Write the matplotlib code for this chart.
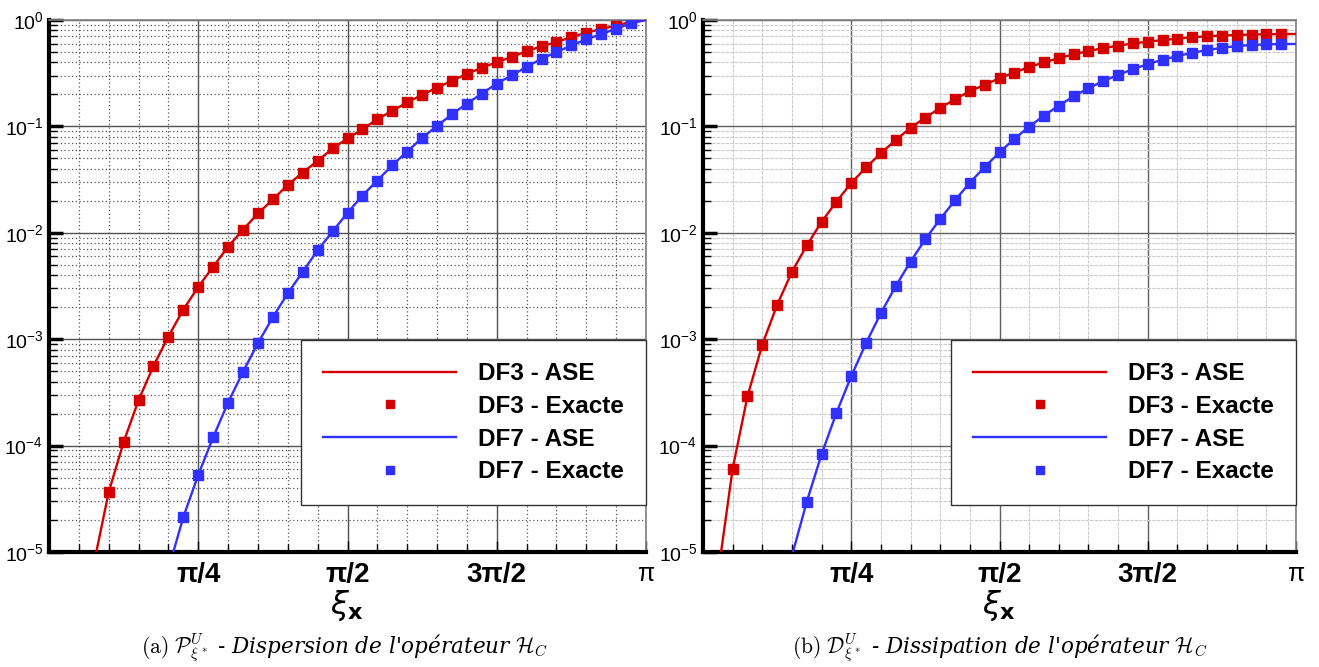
import numpy as np
import matplotlib.pyplot as plt
from matplotlib.ticker import FixedLocator, NullFormatter

# sample index k -> xi = k*pi/40
# (a) dispersion
k_a_red = list(range(4, 40))
a_red = [3.65e-5, 1.08e-4, 2.67e-4, 5.6e-4, 1.06e-3, 1.9e-3, 3.1e-3, 4.8e-3,
         7.4e-3, 1.07e-2, 1.52e-2, 2.06e-2, 2.82e-2, 3.68e-2, 4.74e-2, 6.2e-2,
         7.7e-2, 9.4e-2, 0.117, 0.140, 0.168, 0.198, 0.232, 0.268, 0.312,
         0.355, 0.402, 0.448, 0.510, 0.565, 0.620, 0.691, 0.760, 0.823, 0.885,
         0.964]
k_a_blue = list(range(9, 40))
a_blue = [2.13e-5, 5.3e-5, 1.2e-4, 2.54e-4, 4.94e-4, 9.2e-4, 1.61e-3, 2.7e-3,
          4.3e-3, 6.86e-3, 1.03e-2, 1.54e-2, 2.24e-2, 3.1e-2, 4.32e-2, 5.8e-2,
          7.8e-2, 0.101, 0.130, 0.164, 0.203, 0.253, 0.301, 0.363, 0.432,
          0.499, 0.577, 0.657, 0.738, 0.828, 0.93]
# ASE curve end points (where it leaves the frame)
a_red_ends = [(3.17, 1e-5), (40, 1.0)]
a_blue_ends = [(8.33, 1e-5), (40, 1.0)]

# (b) dissipation
k_b_red = list(range(2, 40))
b_red = [6.08e-5, 2.9e-4, 8.9e-4, 2.1e-3, 4.3e-3, 7.6e-3, 1.27e-2, 1.96e-2,
         2.94e-2, 4.12e-2, 5.6e-2, 7.46e-2, 9.7e-2, 0.121, 0.149, 0.180,
         0.214, 0.246, 0.284, 0.321, 0.361, 0.399, 0.438, 0.475, 0.511, 0.545,
         0.573, 0.603, 0.625, 0.648, 0.667, 0.687, 0.704, 0.714, 0.723, 0.730,
         0.735, 0.738]
k_b_blue = list(range(7, 40))
b_blue = [2.97e-5, 8.3e-5, 2.03e-4, 4.49e-4, 9.2e-4, 1.76e-3, 3.15e-3, 5.37e-3,
          8.7e-3, 1.35e-2, 2.02e-2, 2.96e-2, 4.15e-2, 5.71e-2, 7.62e-2,
          9.96e-2, 0.126, 0.157, 0.191, 0.229, 0.266, 0.305, 0.345, 0.385,
          0.423, 0.458, 0.492, 0.521, 0.548, 0.569, 0.582, 0.590, 0.594]
b_red_ends = [(1.22, 1e-5), (40, 0.739)]
b_blue_ends = [(6.07, 1e-5), (40, 0.595)]

xticks = [np.pi / 4, np.pi / 2, 3 * np.pi / 4, np.pi]
xticklabels = ['π/4', 'π/2', '3π/2', 'π']
yticks = [1e-5, 1e-4, 1e-3, 1e-2, 1e-1, 1e0]
yticklabels = [r'$\mathregular{10^{-5}}$', r'$\mathregular{10^{-4}}$',
               r'$\mathregular{10^{-3}}$', r'$\mathregular{10^{-2}}$',
               r'$\mathregular{10^{-1}}$', r'$\mathregular{10^{0}}$']

RED = '#d40000'
BLUE = '#3030ff'

fig = plt.figure(figsize=(13.19, 6.67), dpi=100)
ax_a = fig.add_axes([49 / 1319, 1 - 552 / 667, 597 / 1319, 532 / 667])
ax_b = fig.add_axes([703 / 1319, 1 - 552 / 667, 593 / 1319, 532 / 667])


def with_ends(k, v, ends):
    kk = [ends[0][0]] + list(k) + [ends[1][0]]
    vv = [ends[0][1]] + list(v) + [ends[1][1]]
    return np.array(kk) * np.pi / 40, vv


def draw(ax, kr, vr, er, kb, vb, eb, light_grid):
    x, y = with_ends(kr, vr, er)
    ax.plot(x, y, color=RED, lw=1.7, label='DF3 - ASE', zorder=3)
    ax.plot(np.array(kr) * np.pi / 40, vr, 's', color=RED, ms=7.2,
            ls='none', label='DF3 - Exacte', zorder=4)
    x, y = with_ends(kb, vb, eb)
    ax.plot(x, y, color=BLUE, lw=1.7, label='DF7 - ASE', zorder=3)
    ax.plot(np.array(kb) * np.pi / 40, vb, 's', color=BLUE, ms=7.2,
            ls='none', label='DF7 - Exacte', zorder=4)

    ax.set_yscale('log')
    ax.set_xlim(0, np.pi)
    ax.set_ylim(1e-5, 1)

    ax.xaxis.set_major_locator(FixedLocator(xticks))
    ax.xaxis.set_minor_locator(FixedLocator([i * np.pi / 20 for i in range(1, 20)]))
    ax.set_xticklabels(xticklabels)
    ax.yaxis.set_major_locator(FixedLocator(yticks))
    minors = [m * 10.0 ** e for e in range(-5, 0) for m in range(2, 10)]
    ax.yaxis.set_minor_locator(FixedLocator(minors))
    ax.yaxis.set_minor_formatter(NullFormatter())
    ax.set_yticklabels(yticklabels, family='Liberation Sans', fontsize=14)

    for i, lab in enumerate(ax.get_xticklabels()):
        lab.set_family('Liberation Sans')
        if i < 3:
            lab.set_fontweight('bold')
            lab.set_fontsize(20)
        else:
            lab.set_fontsize(18)

    ax.tick_params(axis='y', which='major', direction='in', length=10,
                   width=2.5, pad=4)
    ax.tick_params(axis='y', which='minor', direction='in', length=6, width=1)
    ax.tick_params(axis='x', which='major', direction='in', length=8,
                   width=1, pad=7)
    ax.tick_params(axis='x', which='minor', direction='in', length=6, width=1)

    ax.set_axisbelow(True)
    if light_grid:
        ax.grid(True, which='major', color='#606060', lw=1.0)
        ax.grid(True, which='minor', color='#cccccc', lw=0.8, ls=(0, (3, 1)))
    else:
        ax.grid(True, which='major', color='#505050', lw=1.0)
        ax.grid(True, which='minor', color='#555555', lw=0.9, ls=(0, (1, 2)))

    for s in ['left', 'bottom']:
        ax.spines[s].set_linewidth(3)
        ax.spines[s].set_color('black')
    for s in ['top', 'right']:
        ax.spines[s].set_linewidth(1.2)
        ax.spines[s].set_color('#808080')

    ax.set_xlabel(r'$\xi_\mathbf{x}$', fontsize=23, labelpad=0)

    leg = ax.legend(loc='lower right', bbox_to_anchor=(1.0, 0.088),
                    borderaxespad=0, fancybox=False, framealpha=1,
                    edgecolor='#333333', handlelength=5.5, handletextpad=0.9,
                    labelspacing=0.4, borderpad=0.9, markerscale=0.85,
                    prop={'family': 'Liberation Sans', 'weight': 'bold',
                          'size': 17.5})
    leg.get_frame().set_linewidth(1.0)


draw(ax_a, k_a_red, a_red, a_red_ends, k_a_blue, a_blue, a_blue_ends, False)
draw(ax_b, k_b_red, b_red, b_red_ends, k_b_blue, b_blue, b_blue_ends, True)

fig.text(0.2616, 0.028,
         r"$\mathrm{(a)}\ \mathcal{P}^{U}_{\xi^*}$ - Dispersion de l'opérateur $\mathcal{H}_C$",
         ha='center', va='center', fontsize=15.5, family='DejaVu Serif',
         style='italic', math_fontfamily='cm')
fig.text(0.758, 0.028,
         r"$\mathrm{(b)}\ \mathcal{D}^{U}_{\xi^*}$ - Dissipation de l'opérateur $\mathcal{H}_C$",
         ha='center', va='center', fontsize=15.5, family='DejaVu Serif',
         style='italic', math_fontfamily='cm')

fig.savefig('out.png', dpi=100)
